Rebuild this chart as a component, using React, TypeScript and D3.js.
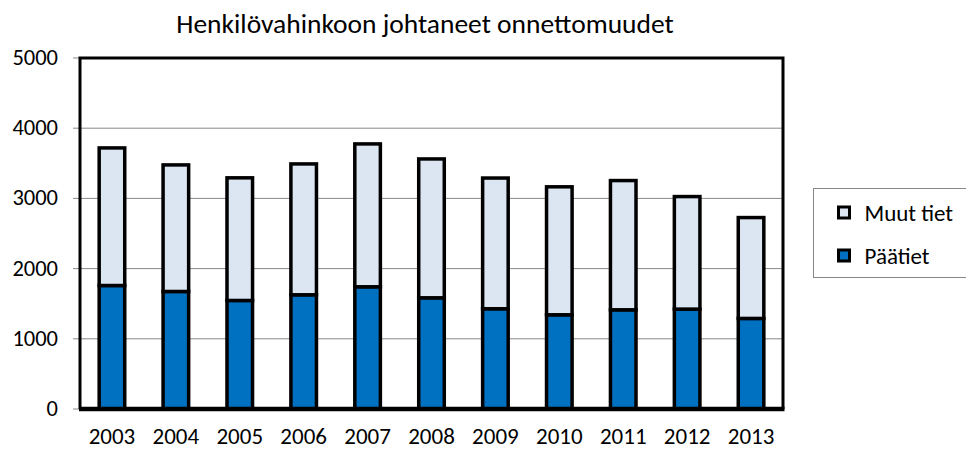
import { scaleBand, scaleLinear, stack } from "d3"

const years = ["2003", "2004", "2005", "2006", "2007", "2008", "2009", "2010", "2011", "2012", "2013"]
const paatiet = [1759, 1674, 1546, 1627, 1741, 1584, 1428, 1342, 1413, 1423, 1290]
const muutTiet = [1960, 1803, 1747, 1864, 2035, 1978, 1862, 1823, 1841, 1603, 1437]
const yTicks = [0, 1000, 2000, 3000, 4000, 5000]
const seriesNames = ["Päätiet", "Muut tiet"]
const seriesColors = ["#0070C0", "#DCE6F2"]

const FONT = "Carlito, 'Noto Sans', 'Open Sans', sans-serif"

export default function App() {
  const width = 966
  const height = 450
  const M = { left: 80, top: 58, right: 183, bottom: 41 }
  const innerW = width - M.left - M.right
  const innerH = height - M.top - M.bottom

  const x = scaleBand().domain(years).range([0, innerW]).paddingInner(0.6).paddingOuter(0.3)
  const y = scaleLinear().domain([0, 5000]).range([innerH, 0])

  const rows = years.map((yr, i) => ({ year: yr, p: paatiet[i], m: muutTiet[i] }))
  const layers = stack<any>().keys(["p", "m"])(rows)

  return (
    <div style={{ position: "absolute", left: 0, top: 0 }}>
      <svg width={width} height={height} style={{ display: "block", fontFamily: FONT }}>
        <rect width={width} height={height} fill="#fff" />
        <text x={425} y={33} textAnchor="middle" fontSize={27.5} fill="#000">
          Henkilövahinkoon johtaneet onnettomuudet
        </text>
        <g transform={`translate(${M.left},${M.top})`}>
          {yTicks.map((t) => (
            <g key={t}>
              {t > 0 && t < 5000 && (
                <line x1={0} x2={innerW} y1={y(t)} y2={y(t)} stroke="#888" strokeWidth={1} />
              )}
              <line x1={-7} x2={0} y1={y(t)} y2={y(t)} stroke="#888" strokeWidth={1} />
              <text x={-22} y={y(t) + 7} textAnchor="end" fontSize={22.5} fill="#000">
                {t}
              </text>
            </g>
          ))}
          {layers.map((layer, li) => (
            <g key={li}>
              {layer.map((d, i) => (
                <rect
                  key={i}
                  x={x(years[i])}
                  y={y(d[1])}
                  width={x.bandwidth()}
                  height={y(d[0]) - y(d[1])}
                  fill={seriesColors[li]}
                  stroke="#000"
                  strokeWidth={3.5}
                />
              ))}
            </g>
          ))}
          <path
            d={`M0,${innerH} V0 H${innerW} V${innerH}`}
            fill="none"
            stroke="#000"
            strokeWidth={3}
          />
          <line x1={-1} x2={innerW + 1.5} y1={innerH} y2={innerH} stroke="#000" strokeWidth={4.5} />
          {years.map((yr) => (
            <text
              key={yr}
              x={(x(yr) as number) + x.bandwidth() / 2}
              y={innerH + 35}
              textAnchor="middle"
              fontSize={23}
              fill="#000"
            >
              {yr}
            </text>
          ))}
        </g>
        <g transform="translate(813.5,188.5)">
          <rect width={160} height={89} fill="#fff" stroke="#888" strokeWidth={1} />
          {[1, 0].map((si, k) => (
            <g key={si} transform={`translate(0,${24 + k * 43})`}>
              <rect x={25} y={-5.5} width={11} height={11} fill={seriesColors[si]} stroke="#000" strokeWidth={3} />
              <text x={51} y={8} fontSize={23} fill="#000">
                {seriesNames[si]}
              </text>
            </g>
          ))}
        </g>
      </svg>
    </div>
  )
}
